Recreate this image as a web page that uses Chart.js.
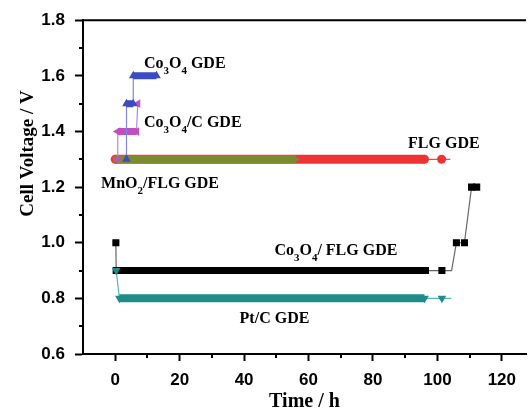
<!DOCTYPE html>
<html>
<head>
<meta charset="utf-8">
<script src="https://cdn.jsdelivr.net/npm/chart.js@4.4.0/dist/chart.umd.min.js"></script>
<style>
  html, body { margin: 0; padding: 0; background: #fff; }
  #wrap { width: 531px; height: 416px; }
</style>
</head>
<body>
<div id="wrap"><canvas id="chart" width="531" height="416"></canvas></div>
<script>
// time (h) and cell voltage (V), one pair per electrode
const co3o4Time = [3.5, 3.5, 5.6, 5.6, 12.8];
const co3o4Volt = [1.3, 1.5, 1.5, 1.6, 1.6];
const co3o4cTime = [0.8, 0.8, 6.6, 7.0];
const co3o4cVolt = [1.3, 1.4, 1.4, 1.5];
const mno2Time = [0, 56];
const mno2Volt = [1.3, 1.3];
const flgTime = [0, 96, 101.3, 104];
const flgVolt = [1.3, 1.3, 1.3, 1.3];
const ptcTime = [0.3, 1.3, 96, 101.4, 104.3];
const ptcVolt = [0.9, 0.8, 0.8, 0.8, 0.8];
const co3o4flgTime = [0.2, 0.3, 96.3, 101.4, 104.4, 105.9, 108.4, 110.6, 112.2];
const co3o4flgVolt = [1.0, 0.9, 0.9, 0.9, 0.9, 1.0, 1.0, 1.2, 1.2];

const xTicks = [0, 20, 40, 60, 80, 100, 120];
const yTicks = [0.6, 0.8, 1.0, 1.2, 1.4, 1.6, 1.8];

// curve labels ("_" marks a subscript character) and where they sit, in data units
const noteText = ['Co_3O_4 GDE', 'Co_3O_4/C GDE', 'FLG GDE', 'MnO_2/FLG GDE', 'Co_3O_4/ FLG GDE', 'Pt/C GDE'];
const noteTime = [8.9, 8.9, 90.9, -4.4, 49.4, 38.6];
const noteVolt = [1.628, 1.416, 1.339, 1.198, 0.957, 0.712];

const serif = '"Liberation Serif", "Times New Roman", serif';
const sans = '"Liberation Sans", Arial, sans-serif';

function series(label, xs, ys, opts) {
    const bands = opts.bands || [];
    const bare = opts.bare || [];
    return {
        label: label,
        data: xs.map((x, i) => ({ x: x, y: ys[i] })),
        borderColor: opts.color,
        backgroundColor: opts.color,
        borderWidth: 1,
        pointStyle: opts.style,
        rotation: opts.rotation || 0,
        pointRadius: ctx => bare.includes(ctx.dataIndex) ? 0 : opts.radius,
        pointBackgroundColor: opts.color,
        pointBorderColor: opts.color,
        pointBorderWidth: 0,
        segment: {
            borderWidth: ctx => bands.includes(ctx.p0DataIndex) ? opts.band : 1.2,
            borderColor: ctx => bands.includes(ctx.p0DataIndex) ? opts.color : opts.link
        }
    };
}

const datasets = [
    series('Co3O4 GDE', co3o4Time, co3o4Volt, { color: '#3b4cc0', link: '#7f88dc', style: 'triangle', radius: 5, bands: [1, 3], band: 7 }),
    series('Co3O4/C GDE', co3o4cTime, co3o4cVolt, { color: '#c24fc2', link: '#b48ad8', style: 'triangle', rotation: -90, radius: 5, bands: [1], band: 7 }),
    series('MnO2/FLG GDE', mno2Time, mno2Volt, { color: '#7e8a2e', link: '#7e8a2e', style: 'triangle', rotation: 90, radius: 4.5, bands: [0], band: 8 }),
    series('FLG GDE', flgTime, flgVolt, { color: '#ee3333', link: '#e55050', style: 'circle', radius: 4.5, bands: [0], band: 9, bare: [3] }),
    series('Pt/C GDE', ptcTime, ptcVolt, { color: '#208b8b', link: '#55b5b5', style: 'triangle', rotation: 180, radius: 5, bands: [1], band: 8, bare: [4] }),
    series('Co3O4/FLG GDE', co3o4flgTime, co3o4flgVolt, { color: '#000000', link: '#666666', style: 'rect', radius: 5, bands: [1], band: 7, bare: [4] })
];

function drawNote(ctx, text, x, y) {
    // split into normal runs and one-character subscripts
    const parts = [];
    let run = '';
    for (let i = 0; i < text.length; i++) {
        if (text[i] === '_') {
            if (run) parts.push({ t: run, sub: false });
            run = '';
            parts.push({ t: text[++i], sub: true });
        } else {
            run += text[i];
        }
    }
    if (run) parts.push({ t: run, sub: false });
    let cx = x;
    parts.forEach(p => {
        ctx.font = p.sub ? 'bold 11px ' + serif : 'bold 16px ' + serif;
        ctx.fillText(p.t, cx, p.sub ? y + 6 : y);
        cx += ctx.measureText(p.t).width;
    });
}

const extras = {
    id: 'extras',
    afterDraw(chart) {
        const { ctx, chartArea, scales } = chart;
        const xs = scales.x, ys = scales.y;
        ctx.save();
        ctx.strokeStyle = '#000';
        ctx.lineWidth = 2;
        // top frame line
        ctx.beginPath();
        ctx.moveTo(chartArea.left, chartArea.top);
        ctx.lineTo(chartArea.right, chartArea.top);
        ctx.stroke();
        // minor ticks halfway between major ones
        ctx.beginPath();
        for (let i = 0; i < xTicks.length - 1; i++) {
            const px = Math.round(xs.getPixelForValue((xTicks[i] + xTicks[i + 1]) / 2));
            ctx.moveTo(px, chartArea.bottom);
            ctx.lineTo(px, chartArea.bottom + 4);
        }
        for (let i = 0; i < yTicks.length - 1; i++) {
            const py = Math.round(ys.getPixelForValue((yTicks[i] + yTicks[i + 1]) / 2));
            ctx.moveTo(chartArea.left, py);
            ctx.lineTo(chartArea.left - 4, py);
        }
        ctx.stroke();

        // y axis title
        ctx.fillStyle = '#000';
        ctx.font = 'bold 19px ' + serif;
        ctx.textAlign = 'center';
        ctx.textBaseline = 'middle';
        ctx.translate(28, 153.5);
        ctx.rotate(-Math.PI / 2);
        ctx.fillText('Cell Voltage / V', 0, 0);
        ctx.restore();

        ctx.save();
        ctx.fillStyle = '#000';
        ctx.textAlign = 'left';
        ctx.textBaseline = 'alphabetic';
        noteText.forEach((t, i) => {
            drawNote(ctx, t, xs.getPixelForValue(noteTime[i]), ys.getPixelForValue(noteVolt[i]));
        });
        ctx.restore();
    }
};

new Chart(document.getElementById('chart').getContext('2d'), {
    type: 'line',
    data: { datasets: datasets },
    options: {
        responsive: false,
        animation: false,
        layout: { padding: { top: 18, right: 0, left: 0, bottom: 0 } },
        plugins: { legend: { display: false }, tooltip: { enabled: false } },
        scales: {
            x: {
                type: 'linear',
                min: -10,
                max: 127.5,
                afterBuildTicks: s => { s.ticks = xTicks.map(v => ({ value: v })); },
                afterFit: s => { s.height = 62; },
                grid: { drawOnChartArea: false, tickLength: 7, tickWidth: 2, tickColor: '#000' },
                border: { color: '#000', width: 2 },
                ticks: { color: '#000', padding: 9, font: { family: sans, size: 17, weight: 'bold' } },
                title: {
                    display: true,
                    text: 'Time / h',
                    color: '#000',
                    padding: { top: 0, bottom: 2 },
                    font: { family: serif, size: 20, weight: 'bold' }
                }
            },
            y: {
                min: 0.6,
                max: 1.8,
                afterBuildTicks: s => { s.ticks = yTicks.map(v => ({ value: v })); },
                afterFit: s => { s.width = 83; },
                grid: { drawOnChartArea: false, tickLength: 8, tickWidth: 2, tickColor: '#000' },
                border: { color: '#000', width: 2 },
                ticks: {
                    color: '#000',
                    padding: 10,
                    font: { family: sans, size: 17, weight: 'bold' },
                    callback: v => v.toFixed(1)
                }
            }
        }
    },
    plugins: [extras]
});
</script>
</body>
</html>
